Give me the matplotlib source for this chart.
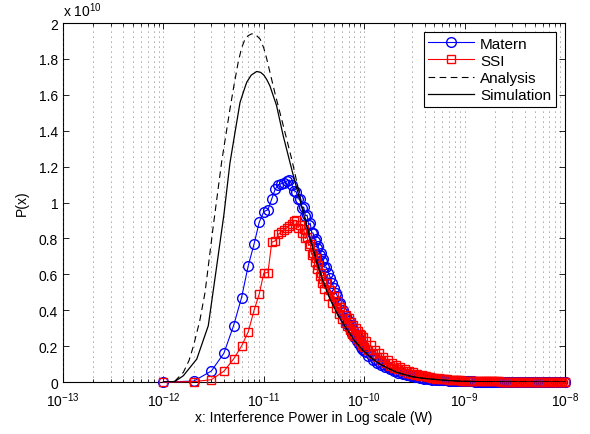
"""Interference power PDF: Matern / SSI simulation vs analysis (MATLAB-style figure)."""

import matplotlib

matplotlib.use("Agg")
import matplotlib.pyplot as plt
from matplotlib.ticker import FixedLocator, FixedFormatter, LogLocator, NullFormatter

plt.rcParams["font.family"] = ["Liberation Sans", "DejaVu Sans"]
plt.rcParams["mathtext.fontset"] = "custom"
plt.rcParams["mathtext.rm"] = "Liberation Sans"
plt.rcParams["mathtext.it"] = "Liberation Sans:italic"
plt.rcParams["mathtext.bf"] = "Liberation Sans:bold"

# x values in units of 1e-12 W, P(x) values in units of 1e10
X_SIM = [1, 2, 3, 4, 5, 6, 7, 8, 9, 10, 11, 12, 13, 14, 15, 16, 17, 18, 19, 20,
         21, 22, 23, 24, 25, 26, 27, 28, 29, 30, 31, 32, 33, 34, 35, 36, 37, 38, 39, 40,
         42, 44, 46, 48, 50, 52, 54, 56, 58, 60, 62, 64, 66, 68, 70, 72, 74, 76, 78, 80,
         82, 84, 86, 88, 90, 92, 94, 96, 98, 100,
         105, 110, 116, 122, 128, 134, 141, 148, 155, 163, 171, 180, 189, 198, 208,
         218, 229, 241, 253, 265, 279, 293, 307, 323, 339, 356, 374, 392, 412, 432,
         454, 477, 500, 525, 552, 579, 608, 639, 671, 704, 739, 776, 815, 856, 899,
         944, 991,
         1050, 1100, 1160, 1220, 1280, 1340, 1410, 1480, 1550, 1630, 1710, 1800, 1890,
         1980, 2080, 2180, 2290, 2410, 2530, 2650, 2790, 2930, 3070, 3230, 3390, 3560,
         3740, 3920, 4120, 4320, 4540, 4760, 5000, 5250, 5520, 5790, 6080, 6390, 6710,
         7040, 7390, 7760, 8150, 8560, 8990, 9440, 9910, 10000]

P_MATERN = [0, 0.005, 0.061, 0.16, 0.314, 0.47, 0.648, 0.769, 0.89, 0.949,
            0.96, 1.02, 1.075, 1.10, 1.105, 1.11, 1.12, 1.125, 1.10, 1.066,
            1.06, 1.02, 1.02, 0.97, 0.975, 0.925, 0.93, 0.875, 0.885, 0.83,
            0.83, 0.785, 0.795, 0.745, 0.755, 0.71, 0.72, 0.675, 0.685, 0.64,
            0.64, 0.61, 0.58, 0.55, 0.525, 0.495, 0.48, 0.435, 0.44, 0.39,
            0.40, 0.355, 0.37, 0.325, 0.34, 0.295, 0.315, 0.27, 0.29, 0.25,
            0.27, 0.23, 0.25, 0.21, 0.232, 0.197, 0.215, 0.185, 0.20, 0.172,
            0.17, 0.145, 0.15, 0.125, 0.13, 0.108, 0.114, 0.095, 0.099, 0.082,
            0.086, 0.070, 0.074, 0.059, 0.064, 0.051, 0.055, 0.044, 0.047, 0.037,
            0.040, 0.031, 0.034, 0.026, 0.029, 0.022, 0.025, 0.019, 0.021, 0.016,
            0.018, 0.014, 0.015, 0.012, 0.013, 0.010, 0.011, 0.0085, 0.0092, 0.0072,
            0.0078, 0.0062, 0.0064, 0.0052, 0.0053, 0.0044, 0.0044,
            0.0039, 0.0036, 0.0033, 0.003, 0.0028, 0.0026, 0.0024, 0.0022, 0.002,
            0.0018, 0.0017, 0.0015, 0.0014, 0.0013, 0.0012, 0.0011, 0.001, 0.0009,
            0.0009, 0.0008, 0.0007, 0.0007, 0.0006, 0.0006, 0.0005, 0.0005, 0.0005,
            0.0004, 0.0004, 0.0004, 0.0003, 0.0003, 0.0003, 0.0003, 0.0002, 0.0002,
            0.0002, 0.0002, 0.0002, 0.0002, 0.0001, 0.0001, 0.0001, 0.0001, 0.0001,
            0.0001, 0.0001, 0.0001]

P_SSI = [0, 0.002, 0.013, 0.06, 0.128, 0.20, 0.28, 0.40, 0.49, 0.607,
         0.61, 0.778, 0.787, 0.824, 0.837, 0.845, 0.86, 0.87, 0.88, 0.898,
         0.90, 0.86, 0.875, 0.83, 0.85, 0.80, 0.81, 0.76, 0.77, 0.71,
         0.72, 0.67, 0.69, 0.63, 0.65, 0.59, 0.61, 0.55, 0.575, 0.52,
         0.55, 0.48, 0.51, 0.44, 0.48, 0.41, 0.45, 0.38, 0.42, 0.35,
         0.395, 0.33, 0.375, 0.31, 0.355, 0.29, 0.335, 0.27, 0.315, 0.255,
         0.30, 0.24, 0.285, 0.23, 0.27, 0.215, 0.26, 0.205, 0.25, 0.195,
         0.23, 0.18, 0.205, 0.155, 0.18, 0.137, 0.16, 0.12, 0.14, 0.105,
         0.124, 0.092, 0.108, 0.080, 0.095, 0.070, 0.082, 0.061, 0.071, 0.053,
         0.062, 0.046, 0.054, 0.040, 0.047, 0.035, 0.040, 0.031, 0.034, 0.027,
         0.028, 0.022, 0.025, 0.019, 0.022, 0.016, 0.018, 0.015, 0.015, 0.012,
         0.013, 0.010, 0.011, 0.0090, 0.0090, 0.0074, 0.0072,
         0.0066, 0.0063, 0.006, 0.0057, 0.0054, 0.0051, 0.0048, 0.0045, 0.0043,
         0.004, 0.0038, 0.0036, 0.0034, 0.0032, 0.003, 0.0029, 0.0027, 0.0026,
         0.0024, 0.0023, 0.0022, 0.0021, 0.002, 0.0019, 0.0018, 0.0017, 0.0016,
         0.0015, 0.0014, 0.0014, 0.0013, 0.0012, 0.0012, 0.0011, 0.0011, 0.001,
         0.001, 0.0009, 0.0009, 0.0008, 0.0008, 0.0007, 0.0007, 0.0007, 0.0006,
         0.0006, 0.0006, 0.0005]

X_ANALYSIS = [1.0, 1.3, 1.58, 1.8, 1.99, 2.3, 2.6, 3.14, 3.81, 4.6, 5.0, 5.55, 6.0,
              6.5, 7.0, 7.6, 8.3, 9.2, 10, 10.7, 12.9, 15.6, 19, 22, 24.7, 28.5,
              33.6, 39, 45.6, 55, 67, 80, 98, 120, 143, 175, 211, 250, 300, 370,
              452, 570, 700, 850, 1000, 1400, 2000, 3000, 5000, 10000]
P_ANALYSIS = [0, 0.005, 0.054, 0.12, 0.2, 0.34, 0.5, 0.87, 1.23, 1.52, 1.64, 1.78,
              1.86, 1.91, 1.93, 1.94, 1.935, 1.91, 1.86, 1.80, 1.61, 1.43, 1.24,
              1.08, 0.96, 0.82, 0.675, 0.565, 0.466, 0.373, 0.297, 0.232, 0.175,
              0.131, 0.10, 0.075, 0.054, 0.042, 0.03, 0.022, 0.017, 0.012, 0.008,
              0.0055, 0.004, 0.0022, 0.001, 0.0005, 0.0002, 0]

X_SIMULATION = [1.0, 1.3, 1.58, 2.15, 2.8, 3.4, 4.0, 4.6, 5.2, 5.8, 6.3, 6.76, 7.5,
                8.5, 9.3, 10, 10.7, 11.5, 13.4, 15.6, 19.7, 22, 24.7, 28.5, 33.6, 39,
                45.6, 55, 67, 80, 98, 120, 143, 175, 211, 250, 300, 370, 452, 570,
                700, 850, 1000, 1400, 2000, 3000, 5000, 10000]
P_SIMULATION = [0, 0.003, 0.035, 0.128, 0.314, 0.648, 0.93, 1.22, 1.40, 1.558,
                1.62, 1.67, 1.71, 1.73, 1.725, 1.71, 1.685, 1.65, 1.54, 1.372,
                1.149, 1.05, 0.945, 0.81, 0.667, 0.56, 0.462, 0.37, 0.295, 0.23,
                0.174, 0.13, 0.10, 0.075, 0.054, 0.042, 0.03, 0.022, 0.017, 0.012,
                0.008, 0.0055, 0.004, 0.0022, 0.001, 0.0005, 0.0002, 0]

X_TICKS = [1e-13, 1e-12, 1e-11, 1e-10, 1e-9, 1e-8]
X_TICK_LABELS = [r"$\mathregular{10^{-13}}$", r"$\mathregular{10^{-12}}$",
                 r"$\mathregular{10^{-11}}$", r"$\mathregular{10^{-10}}$",
                 r"$\mathregular{10^{-9}}$", r"$\mathregular{10^{-8}}$"]
Y_TICKS = [0, 0.2, 0.4, 0.6, 0.8, 1.0, 1.2, 1.4, 1.6, 1.8, 2.0]
Y_TICK_LABELS = ["0", "0.2", "0.4", "0.6", "0.8", "1", "1.2", "1.4", "1.6", "1.8", "2"]


def to_watts(values):
    return [v * 1e-12 for v in values]


def main() -> None:
    assert len(X_SIM) == len(P_MATERN) == len(P_SSI)
    assert len(X_ANALYSIS) == len(P_ANALYSIS)
    assert len(X_SIMULATION) == len(P_SIMULATION)

    fig = plt.figure(figsize=(5.9, 4.35), dpi=100)
    ax = fig.add_axes([0.1068, 0.1195, 0.8508, 0.8253])

    # MATLAB does not clip markers at the axes box
    ax.plot(to_watts(X_SIM), P_MATERN, color="#0000ff", lw=0.8, marker="o",
            markersize=7, markerfacecolor="none", markeredgecolor="#0000ff",
            markeredgewidth=1.0, label="Matern", clip_on=False)
    ax.plot(to_watts(X_SIM), P_SSI, color="#ff0000", lw=0.8, marker="s",
            markersize=6, markerfacecolor="none", markeredgecolor="#ff0000",
            markeredgewidth=1.0, label="SSI", clip_on=False)
    ax.plot(to_watts(X_ANALYSIS), P_ANALYSIS, color="black", lw=0.8,
            dashes=(6, 4), label="Analysis")
    ax.plot(to_watts(X_SIMULATION), P_SIMULATION, color="black", lw=0.9,
            label="Simulation")

    ax.set_xscale("log")
    ax.set_xlim(1e-13, 1e-8)
    ax.set_ylim(0, 2)
    ax.xaxis.set_major_locator(FixedLocator(X_TICKS))
    ax.xaxis.set_major_formatter(FixedFormatter(X_TICK_LABELS))
    ax.xaxis.set_minor_locator(LogLocator(base=10, subs=range(2, 10), numticks=20))
    ax.xaxis.set_minor_formatter(NullFormatter())
    ax.yaxis.set_major_locator(FixedLocator(Y_TICKS))
    ax.yaxis.set_major_formatter(FixedFormatter(Y_TICK_LABELS))

    ax.tick_params(which="both", direction="in", top=True, right=True, labelsize=10,
                   width=0.6)
    ax.tick_params(which="major", length=4)
    ax.tick_params(which="minor", length=2.5)
    ax.tick_params(axis="x", pad=6)
    ax.grid(axis="x", which="both", color="0.3", lw=0.6, dashes=(1, 5))
    for spine in ax.spines.values():
        spine.set_linewidth(0.8)
        spine.set_zorder(1.5)

    ax.set_xlabel("x: Interference Power in Log scale (W)", fontsize=10, labelpad=1)
    ax.set_ylabel("P(x)", fontsize=10, labelpad=7)
    ax.text(0.0, 1.012, r"x $\mathregular{10^{10}}$", transform=ax.transAxes,
            fontsize=10, ha="left", va="bottom")

    leg = ax.legend(loc="upper right", fontsize=11, fancybox=False, framealpha=1,
                    edgecolor="black", handlelength=3.0, labelspacing=0.2,
                    borderaxespad=0.6, borderpad=0.3, handletextpad=0.4)
    leg.get_frame().set_linewidth(0.8)

    fig.savefig("out.png", dpi=100)
    plt.close(fig)


if __name__ == "__main__":
    main()
